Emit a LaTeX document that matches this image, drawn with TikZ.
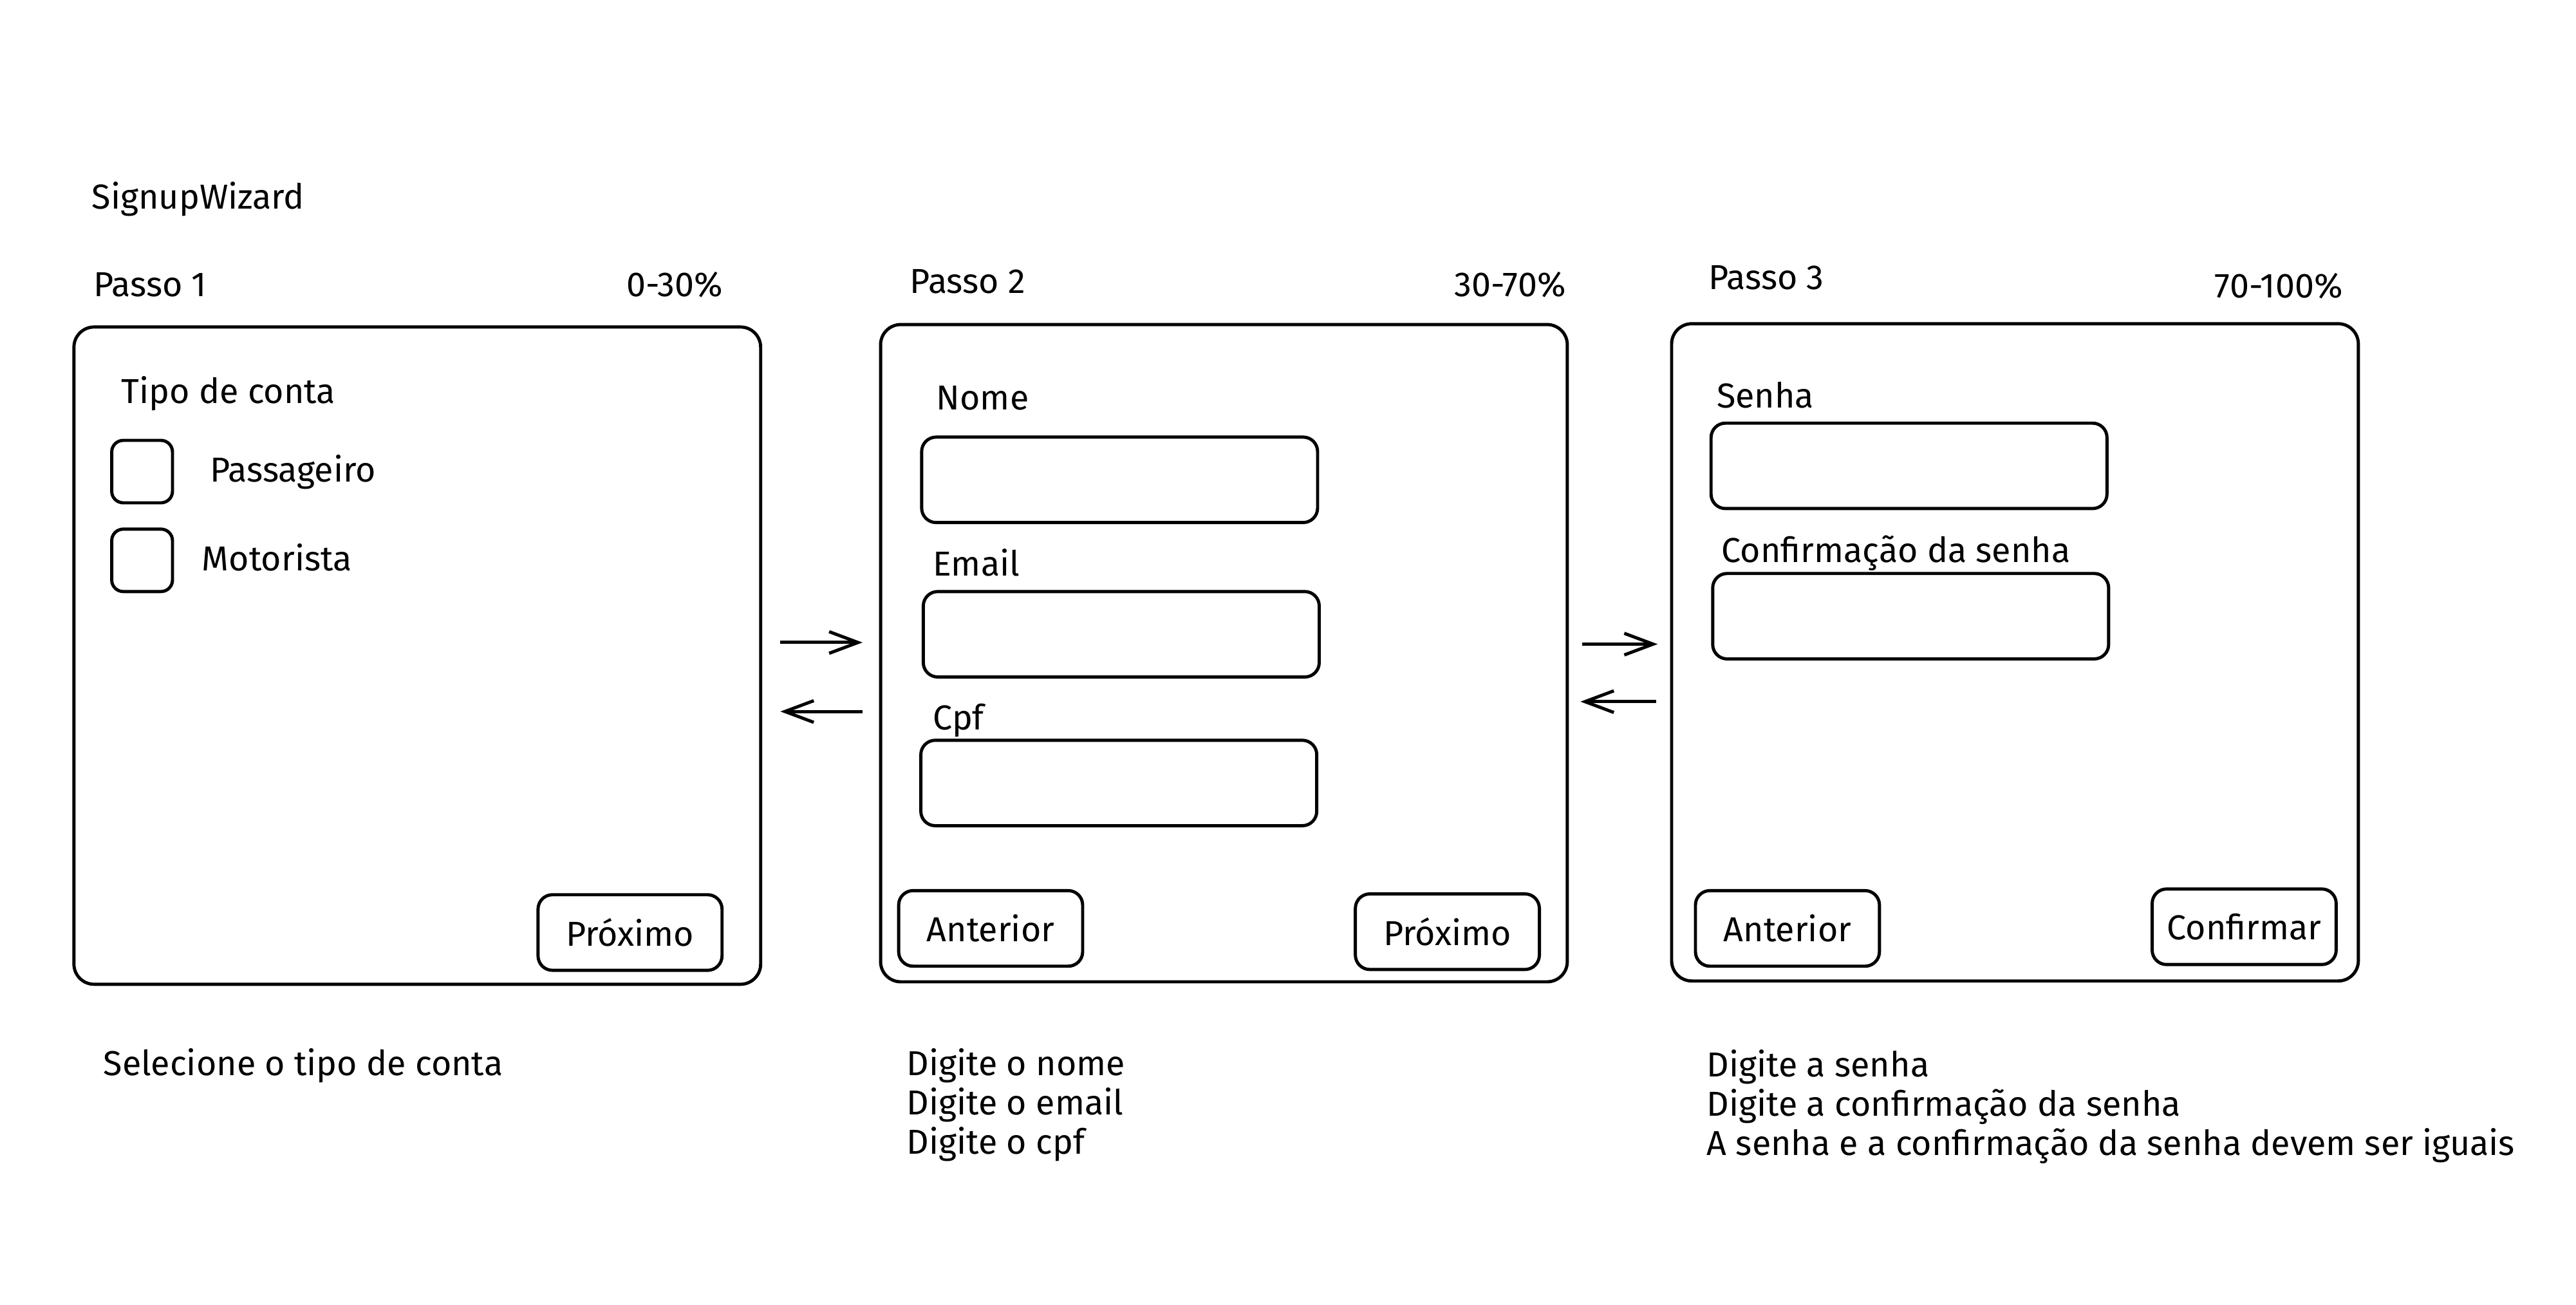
\documentclass[tikz,border=0pt]{standalone}
\usepackage{fontspec}
\setmainfont{Fira Sans}
\usetikzlibrary{arrows.meta}
\begin{document}
\begin{tikzpicture}[x=0.02cm,y=-0.02cm, line width=1.1pt,
  txt/.style={inner sep=0pt, anchor=west, font=\fontsize{12}{13.6}\selectfont, text height=8.3pt, text depth=0pt},
  para/.style={inner sep=0pt, anchor=north west, align=left, font=\fontsize{12}{13.6}\selectfont},
  panel/.style={draw, rounded corners=7pt, minimum width={418*0.02cm}, minimum height={400*0.02cm}, inner sep=0pt},
  field/.style={draw, rounded corners=5pt, minimum width={241*0.02cm}, minimum height={52*0.02cm}, inner sep=0pt},
  btn/.style={draw, rounded corners=5pt, minimum width={112*0.02cm}, minimum height={46*0.02cm}, inner sep=0pt, font=\fontsize{12}{13.6}\selectfont},
  chk/.style={draw, rounded corners=4pt, minimum width={37*0.02cm}, minimum height={38*0.02cm}, inner sep=0pt},
  arr/.style={-{Straight Barb[length=10pt,width=7.5pt]}, line width=1.1pt}
]
\useasboundingbox[fill=white] (0,0) rectangle (1568,794);

% titles
\node[txt] (title) at (55,120) {SignupWizard};
\node[txt] (s1) at (56,173) {Passo 1};
\node[txt, anchor=east] (pc1) at (441,173) {0-30\%};
\node[txt] (s2) at (553,171) {Passo 2};
\node[txt, anchor=east] (pc2) at (954,173) {30-70\%};
\node[txt] (s3) at (1039,169) {Passo 3};
\node[txt, anchor=east] (pc3) at (1427,174) {70-100\%};

% panels
\node[panel] (p1) at (254,399) {};
\node[panel] (p2) at (745,397.5) {};
\node[panel] (p3) at (1226.5,397) {};

% panel 1
\node[txt] (tipo) at (73,238) {Tipo de conta};
\node[chk] (c1) at (86.5,287) {};
\node[chk] (c2) at (86.5,341) {};
\node[txt] (pass) at (127,286) {Passageiro};
\node[txt] (mot) at (122,340) {Motorista};
\node[btn] (b1n) at (383.5,567.5) {Próximo};

% panel 2
\node[txt] (lnome) at (569,242) {Nome};
\node[field] (fnome) at (681.5,292) {};
\node[txt] (lemail) at (567,343) {Email};
\node[field] (femail) at (682.5,386) {};
\node[txt] (lcpf) at (567,437) {Cpf};
\node[field] (fcpf) at (681,476.5) {};
\node[btn] (b2a) at (603,565) {Anterior};
\node[btn] (b2n) at (881,567) {Próximo};

% panel 3
\node[txt] (lsenha) at (1044,241) {Senha};
\node[field] (fsenha) at (1162,283.5) {};
\node[txt] (lconf) at (1047,335) {Confirmação da senha};
\node[field] (fconf) at (1163,375) {};
\node[btn] (b3a) at (1088,565) {Anterior};
\node[btn] (b3c) at (1366,564) {Confirmar};

% arrows
\coordinate (a1s) at (475,391);
\coordinate (a1e) at (525,391);
\coordinate (a2s) at (525,433);
\coordinate (a2e) at (475,433);
\coordinate (a3s) at (963,392);
\coordinate (a3e) at (1009,392);
\coordinate (a4s) at (1008,427);
\coordinate (a4e) at (962,427);
\draw[arr] (a1s) -- (a1e);
\draw[arr] (a2s) -- (a2e);
\draw[arr] (a3s) -- (a3e);
\draw[arr] (a4s) -- (a4e);

% notes
\node[para] (n1) at (62,637) {Selecione o tipo de conta};
\node[para] (n2) at (551,637) {Digite o nome\\Digite o email\\Digite o cpf};
\node[para] (n3) at (1038,638) {Digite a senha\\Digite a confirmação da senha\\A senha e a confirmação da senha devem ser iguais};
\end{tikzpicture}
\end{document}
